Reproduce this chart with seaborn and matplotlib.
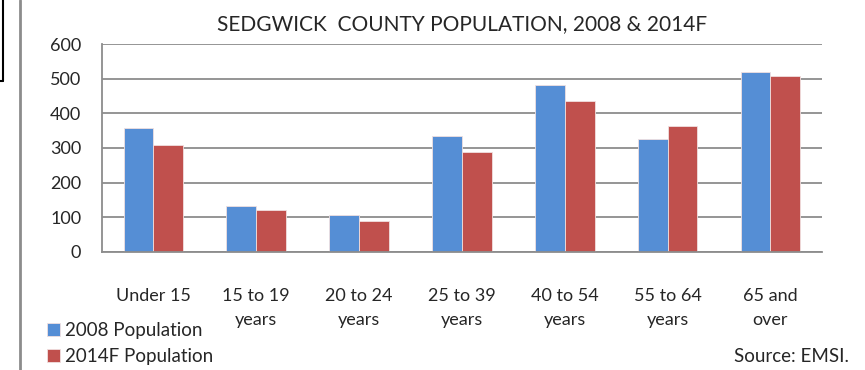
import pandas as pd
import matplotlib.pyplot as plt
import seaborn as sns
from matplotlib.lines import Line2D

# age groups and population (thousands)
groups = ['Under 15', '15 to 19\nyears', '20 to 24\nyears', '25 to 39\nyears',
          '40 to 54\nyears', '55 to 64\nyears', '65 and\nover']
pop_2008 = [358, 133, 106, 336, 481, 326, 520]
pop_2014 = [309, 122, 89, 288, 436, 364, 509]
series = ['2008 Population', '2014F Population']

df = pd.DataFrame({
    'group': groups * 2,
    'value': pop_2008 + pop_2014,
    'series': [series[0]] * len(groups) + [series[1]] * len(groups),
})

sns.set_style('white')
plt.rcParams['font.family'] = ['Lato', 'DejaVu Sans']

fig = plt.figure(figsize=(8.65, 3.7), dpi=100)
ax = fig.add_axes([0.118, 0.319, 0.832, 0.562])

sns.barplot(data=df, x='group', y='value', hue='series', ax=ax,
            palette=['#558ED5', '#C0504D'], saturation=1, width=0.58,
            edgecolor='#f0e0e0', linewidth=0.6, legend=True)

ax.set_ylim(0, 600)
ax.set_xlim(-0.5, 6.5)
ax.set_yticks(range(0, 601, 100))
ax.yaxis.grid(True, color='#8c8c8c', linewidth=1.3)
ax.set_axisbelow(True)
for s in ['top', 'right']:
    ax.spines[s].set_visible(False)
for s in ['left', 'bottom']:
    ax.spines[s].set_color('#8c8c8c')
    ax.spines[s].set_linewidth(1.3)

ax.set_xlabel('')
ax.set_ylabel('')
ax.set_xticks(range(7))
ax.set_xticklabels(groups, fontsize=13, linespacing=1.6)
ax.set_xticks([i - 0.5 for i in range(8)], minor=True)
ax.tick_params(axis='x', which='major', length=0, pad=26)
ax.tick_params(axis='x', which='minor', length=5, color='#8c8c8c', width=1.3)
ax.tick_params(axis='y', length=5, color='#8c8c8c', width=1.3, labelsize=13, pad=10)

ax.set_title('SEDGWICK  COUNTY POPULATION, 2008 & 2014F', fontsize=15, pad=10)

ax.legend(loc='upper left', bbox_to_anchor=(0.054, 0.129),
          bbox_transform=fig.transFigure, frameon=False,
          fontsize=13.5, handlelength=0.7, handleheight=0.7, handletextpad=0.3,
          labelspacing=0.47, borderpad=0, borderaxespad=0)

fig.text(0.981, 0.036, 'Source: EMSI.', ha='right', va='center', fontsize=13.5)

# frame lines at the left edge of the original page
fig.add_artist(Line2D([0.023, 0.023], [0, 1], color='#8c8c8c', linewidth=2))
fig.add_artist(Line2D([0.003, 0.003], [0.78, 1], color='black', linewidth=1.5))
fig.add_artist(Line2D([0, 0.003], [0.78, 0.78], color='black', linewidth=1.5))

fig.savefig('out.png', dpi=100)
